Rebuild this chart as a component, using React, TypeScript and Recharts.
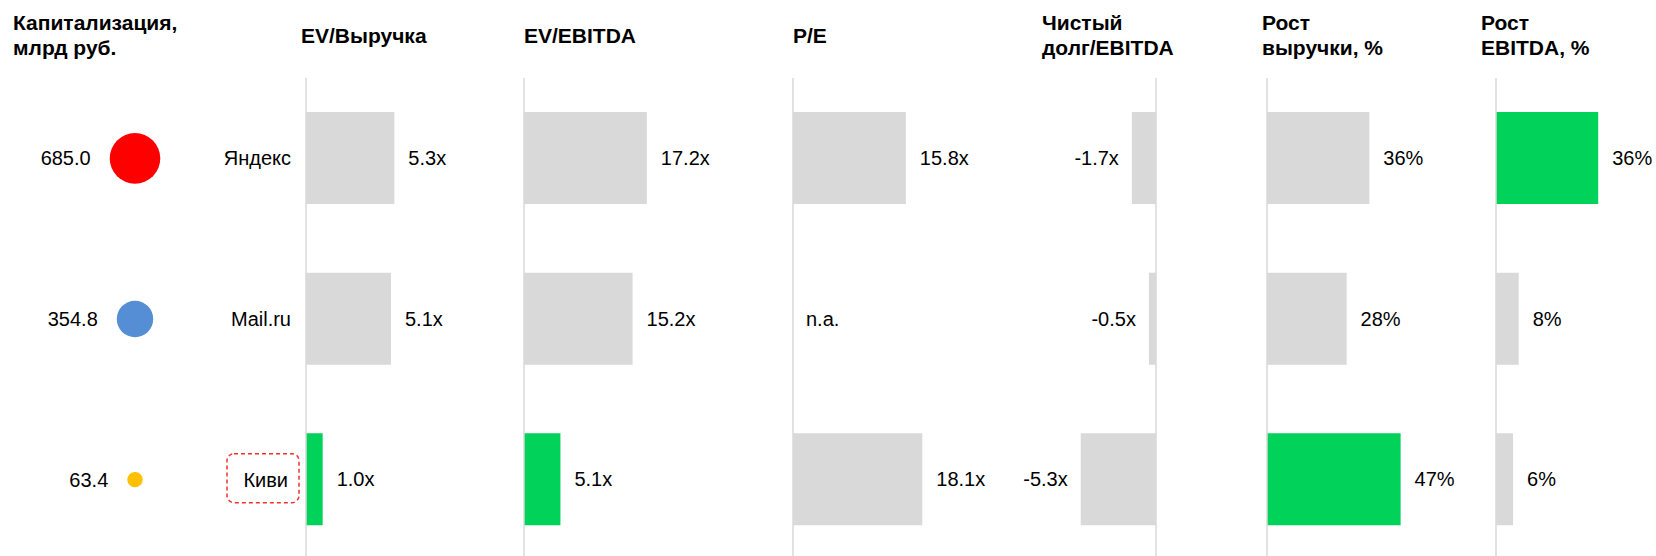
import React from "react";
import {
  Bar,
  BarChart,
  Cell,
  LabelList,
  ReferenceLine,
  Scatter,
  ScatterChart,
  XAxis,
  YAxis,
  ZAxis,
} from "recharts";

// companies and their market cap (bubbles on the left)
const companies = ["Яндекс", "Mail.ru", "Киви"];
const focusCompany = "Киви";
const marketCap = [685.0, 354.8, 63.4];
const bubbleColors = ["#FF0000", "#558ED5", "#FFC000"];

// multiples / growth, one array per column (null = n.a.)
const evRevenue = [5.3, 5.1, 1.0];
const evEbitda = [17.2, 15.2, 5.1];
const peRatio = [15.8, null, 18.1];
const netDebtEbitda = [-1.7, -0.5, -5.3];
const revenueGrowth = [36, 28, 47];
const ebitdaGrowth = [36, 8, 6];

const FONT = '"Liberation Sans", Arial, sans-serif';
const GREY = "#D9D9D9";
const GREEN = "#00D25A";
const TOP = 78;
const PLOT_H = 482;

const multiple = (v: number) => `${v.toFixed(1)}x`;
const percent = (v: number) => `${v}%`;

type Panel = {
  title: string[];
  headerLeft: number;
  values: (number | null)[];
  best: number;
  domain: [number, number];
  fmt: (v: number) => string;
  plotLeft: number;
  plotWidth: number;
  negative?: boolean;
  withNames?: boolean;
};

const panels: Panel[] = [
  { title: ["EV/Выручка"], headerLeft: 301, values: evRevenue, best: 2, domain: [0, 12], fmt: multiple, plotLeft: 306, plotWidth: 200, withNames: true },
  { title: ["EV/EBITDA"], headerLeft: 524, values: evEbitda, best: 2, domain: [0, 35], fmt: multiple, plotLeft: 524, plotWidth: 250 },
  { title: ["P/E"], headerLeft: 793, values: peRatio, best: -1, domain: [0, 35], fmt: multiple, plotLeft: 793, plotWidth: 250 },
  { title: ["Чистый", "долг/EBITDA"], headerLeft: 1042, values: netDebtEbitda, best: -1, domain: [-10, 0], fmt: multiple, plotLeft: 1014, plotWidth: 142, negative: true },
  { title: ["Рост", "выручки, %"], headerLeft: 1262, values: revenueGrowth, best: 2, domain: [0, 70], fmt: percent, plotLeft: 1267, plotWidth: 199 },
  { title: ["Рост", "EBITDA, %"], headerLeft: 1481, values: ebitdaGrowth, best: 0, domain: [0, 56], fmt: percent, plotLeft: 1496, plotWidth: 159 },
];

const textStyle = {
  fontSize: 20,
  fontFamily: FONT,
  fill: "#000",
  dominantBaseline: "central" as const,
};

const NameTick = (props: any) => {
  const { x, y, payload } = props;
  const focus = payload.value === focusCompany;
  return (
    <g>
      {focus && (
        <rect
          x={x - 64}
          y={y - 26}
          width={72}
          height={49}
          rx={7}
          fill="none"
          stroke="#EE3333"
          strokeWidth={1.5}
          strokeDasharray="4 3"
        />
      )}
      <text x={focus ? x - 3 : x} y={y} textAnchor="end" {...textStyle}>
        {payload.value}
      </text>
    </g>
  );
};

// label text comes in as a string; sign of the raw value decides the side
const makeLabel = (values: (number | null)[]) => (props: any) => {
  const vb = props.viewBox || {};
  const x = props.x ?? vb.x;
  const y = props.y ?? vb.y;
  const w = props.width ?? vb.width;
  const width = Number.isFinite(w) ? w : 0;
  const height = props.height ?? vb.height;
  const raw = values[props.index];
  const cy = y + height / 2;
  if (raw != null && raw < 0) {
    return (
      <text x={Math.min(x, x + width) - 13} y={cy} textAnchor="end" {...textStyle}>
        {props.value}
      </text>
    );
  }
  const anchorX = raw == null ? Math.min(x, x + width) + 13 : Math.max(x, x + width) + 14;
  return (
    <text x={anchorX} y={cy} textAnchor="start" {...textStyle}>
      {props.value}
    </text>
  );
};

const MetricChart = ({ p }: { p: Panel }) => {
  // a missing value keeps an invisible 1px bar so its "n.a." label has a slot
  const data = companies.map((name, i) => {
    const v = p.values[i];
    return { name, value: v ?? 0, label: v == null ? "n.a." : p.fmt(v) };
  });
  const namesW = p.withNames ? 110 : 0;
  const pad = 4;
  const marginLeft = p.withNames || p.negative ? 0 : pad;
  const marginRight = p.negative ? pad : 0;
  const left = p.plotLeft - namesW - marginLeft;
  const width = namesW + marginLeft + p.plotWidth + marginRight;
  return (
    <div style={{ position: "absolute", left, top: TOP }}>
      <BarChart
        width={width}
        height={PLOT_H}
        data={data}
        layout="vertical"
        barSize={92}
        margin={{ top: 0, bottom: 0, left: marginLeft, right: marginRight }}
      >
        <XAxis type="number" domain={p.domain} hide allowDataOverflow />
        <YAxis
          type="category"
          dataKey="name"
          width={namesW}
          hide={!p.withNames}
          axisLine={false}
          tickLine={false}
          tickSize={0}
          tickMargin={15}
          tick={<NameTick />}
        />
        <Bar
          dataKey="value"
          isAnimationActive={false}
          minPointSize={(_v: any, i: number) => (p.values[i] == null ? 1 : 0)}
        >
          {data.map((d, i) => (
            <Cell
              key={d.name}
              fill={p.values[i] == null ? "transparent" : i === p.best ? GREEN : GREY}
            />
          ))}
          <LabelList dataKey="label" content={makeLabel(p.values)} />
        </Bar>
        <ReferenceLine x={0} stroke={GREY} strokeWidth={1.5} />
      </BarChart>
    </div>
  );
};

const Bubble = (props: any) => {
  const { cx, cy, size, width, payload } = props;
  const r = width ? width / 2 : Math.sqrt(size / Math.PI);
  return (
    <g>
      <circle cx={cx} cy={cy} r={r} fill={bubbleColors[payload.row]} />
      <text x={cx - r - 19} y={cy} textAnchor="end" {...textStyle}>
        {payload.cap.toFixed(1)}
      </text>
    </g>
  );
};

const Header = ({ lines, left }: { lines: string[]; left: number }) => (
  <div
    style={{
      position: "absolute",
      left,
      top: lines.length > 1 ? 10 : 23,
      fontFamily: FONT,
      fontWeight: "bold",
      fontSize: 21,
      lineHeight: "25px",
      color: "#000",
      whiteSpace: "nowrap",
    }}
  >
    {lines.map((l) => (
      <div key={l}>{l}</div>
    ))}
  </div>
);

export default function App() {
  const capData = companies.map((name, i) => ({
    name,
    row: i,
    col: 0,
    cap: marketCap[i],
  }));

  return (
    <div
      style={{
        position: "absolute",
        left: 0,
        top: 0,
        width: 1656,
        height: 556,
        overflow: "hidden",
        background: "#fff",
      }}
    >
      <Header lines={["Капитализация,", "млрд руб."]} left={13} />
      {panels.map((p) => (
        <Header key={p.title.join()} lines={p.title} left={p.headerLeft} />
      ))}

      <div style={{ position: "absolute", left: 0, top: TOP }}>
        <ScatterChart
          width={270}
          height={PLOT_H}
          margin={{ top: 0, right: 0, bottom: 0, left: 0 }}
        >
          <XAxis type="number" dataKey="col" domain={[-1, 1]} hide />
          <YAxis type="number" dataKey="row" domain={[-0.5, 2.5]} reversed hide />
          <ZAxis type="number" dataKey="cap" domain={[0, "dataMax"]} range={[0, 2011]} />
          <Scatter data={capData} isAnimationActive={false} shape={<Bubble />} />
        </ScatterChart>
      </div>

      {panels.map((p) => (
        <MetricChart key={p.title.join()} p={p} />
      ))}
    </div>
  );
}
